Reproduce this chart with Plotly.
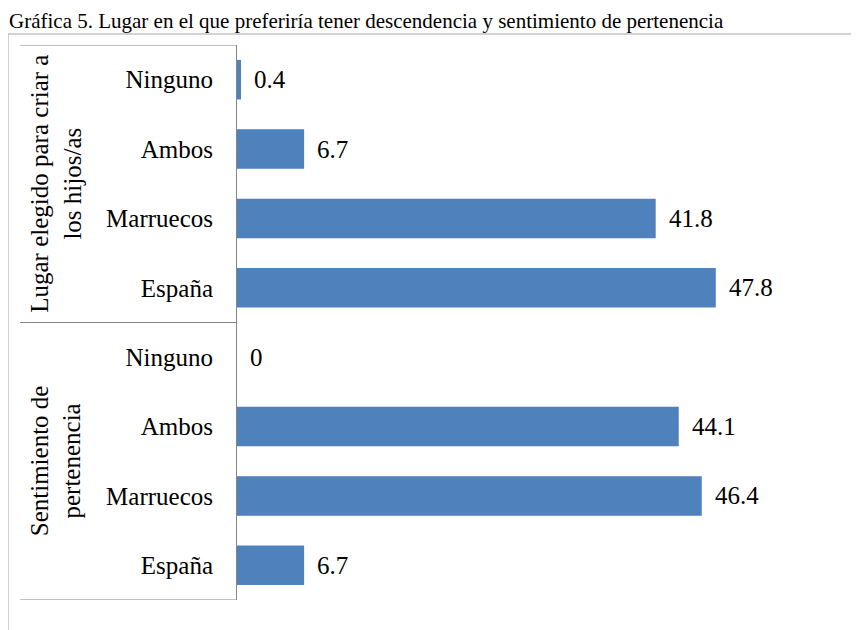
import plotly.graph_objects as go

title_text = "Gráfica 5. Lugar en el que preferiría tener descendencia y sentimiento de pertenencia"
groups = ["Lugar elegido para criar a<br>los hijos/as", "Sentimiento de<br>pertenencia"]
categories = ["Ninguno", "Ambos", "Marruecos", "España",
              "Ninguno", "Ambos", "Marruecos", "España"]
values = [0.4, 6.7, 41.8, 47.8, 0, 44.1, 46.4, 6.7]
value_labels = ["0.4", "6.7", "41.8", "47.8", "0", "44.1", "46.4", "6.7"]

# page body has an 8px margin; work in screen pixels and convert
OFF = 8
W, H = 859 - OFF, 630 - OFF
ML, MT = 237 - OFF, 45 - OFF
MR = W - (838 - OFF)
MB = H - (600 - OFF)
PW = W - ML - MR
PH = H - MT - MB

def px_x(sx):
    return (sx - OFF - ML) / PW

def px_y(sy):
    return (H - MB - (sy - OFF)) / PH

FONT = "Liberation Serif, Times New Roman, serif"
BLUE = "#4F81BD"
GREY = "#868686"
FS = 25

pos = list(range(len(categories)))

fig = go.Figure()
fig.add_trace(go.Bar(
    x=values, y=pos, orientation="h",
    marker=dict(color=BLUE, line=dict(width=0)),
    width=0.57, hoverinfo="skip",
))

annotations = []
for v, p, t in zip(values, pos, value_labels):
    annotations.append(dict(x=v, y=p, xref="x", yref="y", text=t, showarrow=False,
                            xanchor="left", yanchor="middle", xshift=11,
                            font=dict(family=FONT, size=FS, color="black")))

n_per_group = len(categories) // len(groups)
for gi, g in enumerate(groups):
    centre = gi * n_per_group + (n_per_group - 1) / 2
    annotations.append(dict(x=px_x(56), y=centre, xref="paper", yref="y", text=g,
                            showarrow=False, textangle=-90, xanchor="center", yanchor="middle",
                            font=dict(family=FONT, size=FS, color="black")))

annotations.append(dict(x=px_x(8), y=px_y(8), xref="paper", yref="paper", text=title_text,
                        showarrow=False, xanchor="left", yanchor="top", borderpad=0,
                        font=dict(family=FONT, size=21, color="black")))

shapes = []
# outer border
shapes.append(dict(type="rect", xref="paper", yref="paper",
                   x0=px_x(8), x1=px_x(900), y0=px_y(34), y1=px_y(700),
                   line=dict(color="#a6a6a6", width=1), fillcolor="rgba(0,0,0,0)"))
# group boundary lines on the category axis
for gi in range(len(groups) + 1):
    yb = gi * n_per_group - 0.5
    shapes.append(dict(type="line", xref="paper", yref="y",
                       x0=px_x(20), x1=0, y0=yb, y1=yb,
                       line=dict(color=GREY, width=1)))

fig.update_layout(
    width=W, height=H,
    margin=dict(l=ML, r=MR, t=MT, b=MB),
    paper_bgcolor="white", plot_bgcolor="white",
    showlegend=False,
    bargap=0.43,
    xaxis=dict(range=[0, 60], visible=False, showgrid=False, zeroline=False),
    yaxis=dict(range=[len(categories) - 0.5, -0.5], tickmode="array", tickvals=pos,
               ticktext=categories, showgrid=False, zeroline=False,
               showline=True, linecolor=GREY, linewidth=1,
               ticks="", ticklabelstandoff=18,
               tickfont=dict(family=FONT, size=FS, color="black")),
    annotations=annotations,
    shapes=shapes,
)

fig.write_html("out.html")
